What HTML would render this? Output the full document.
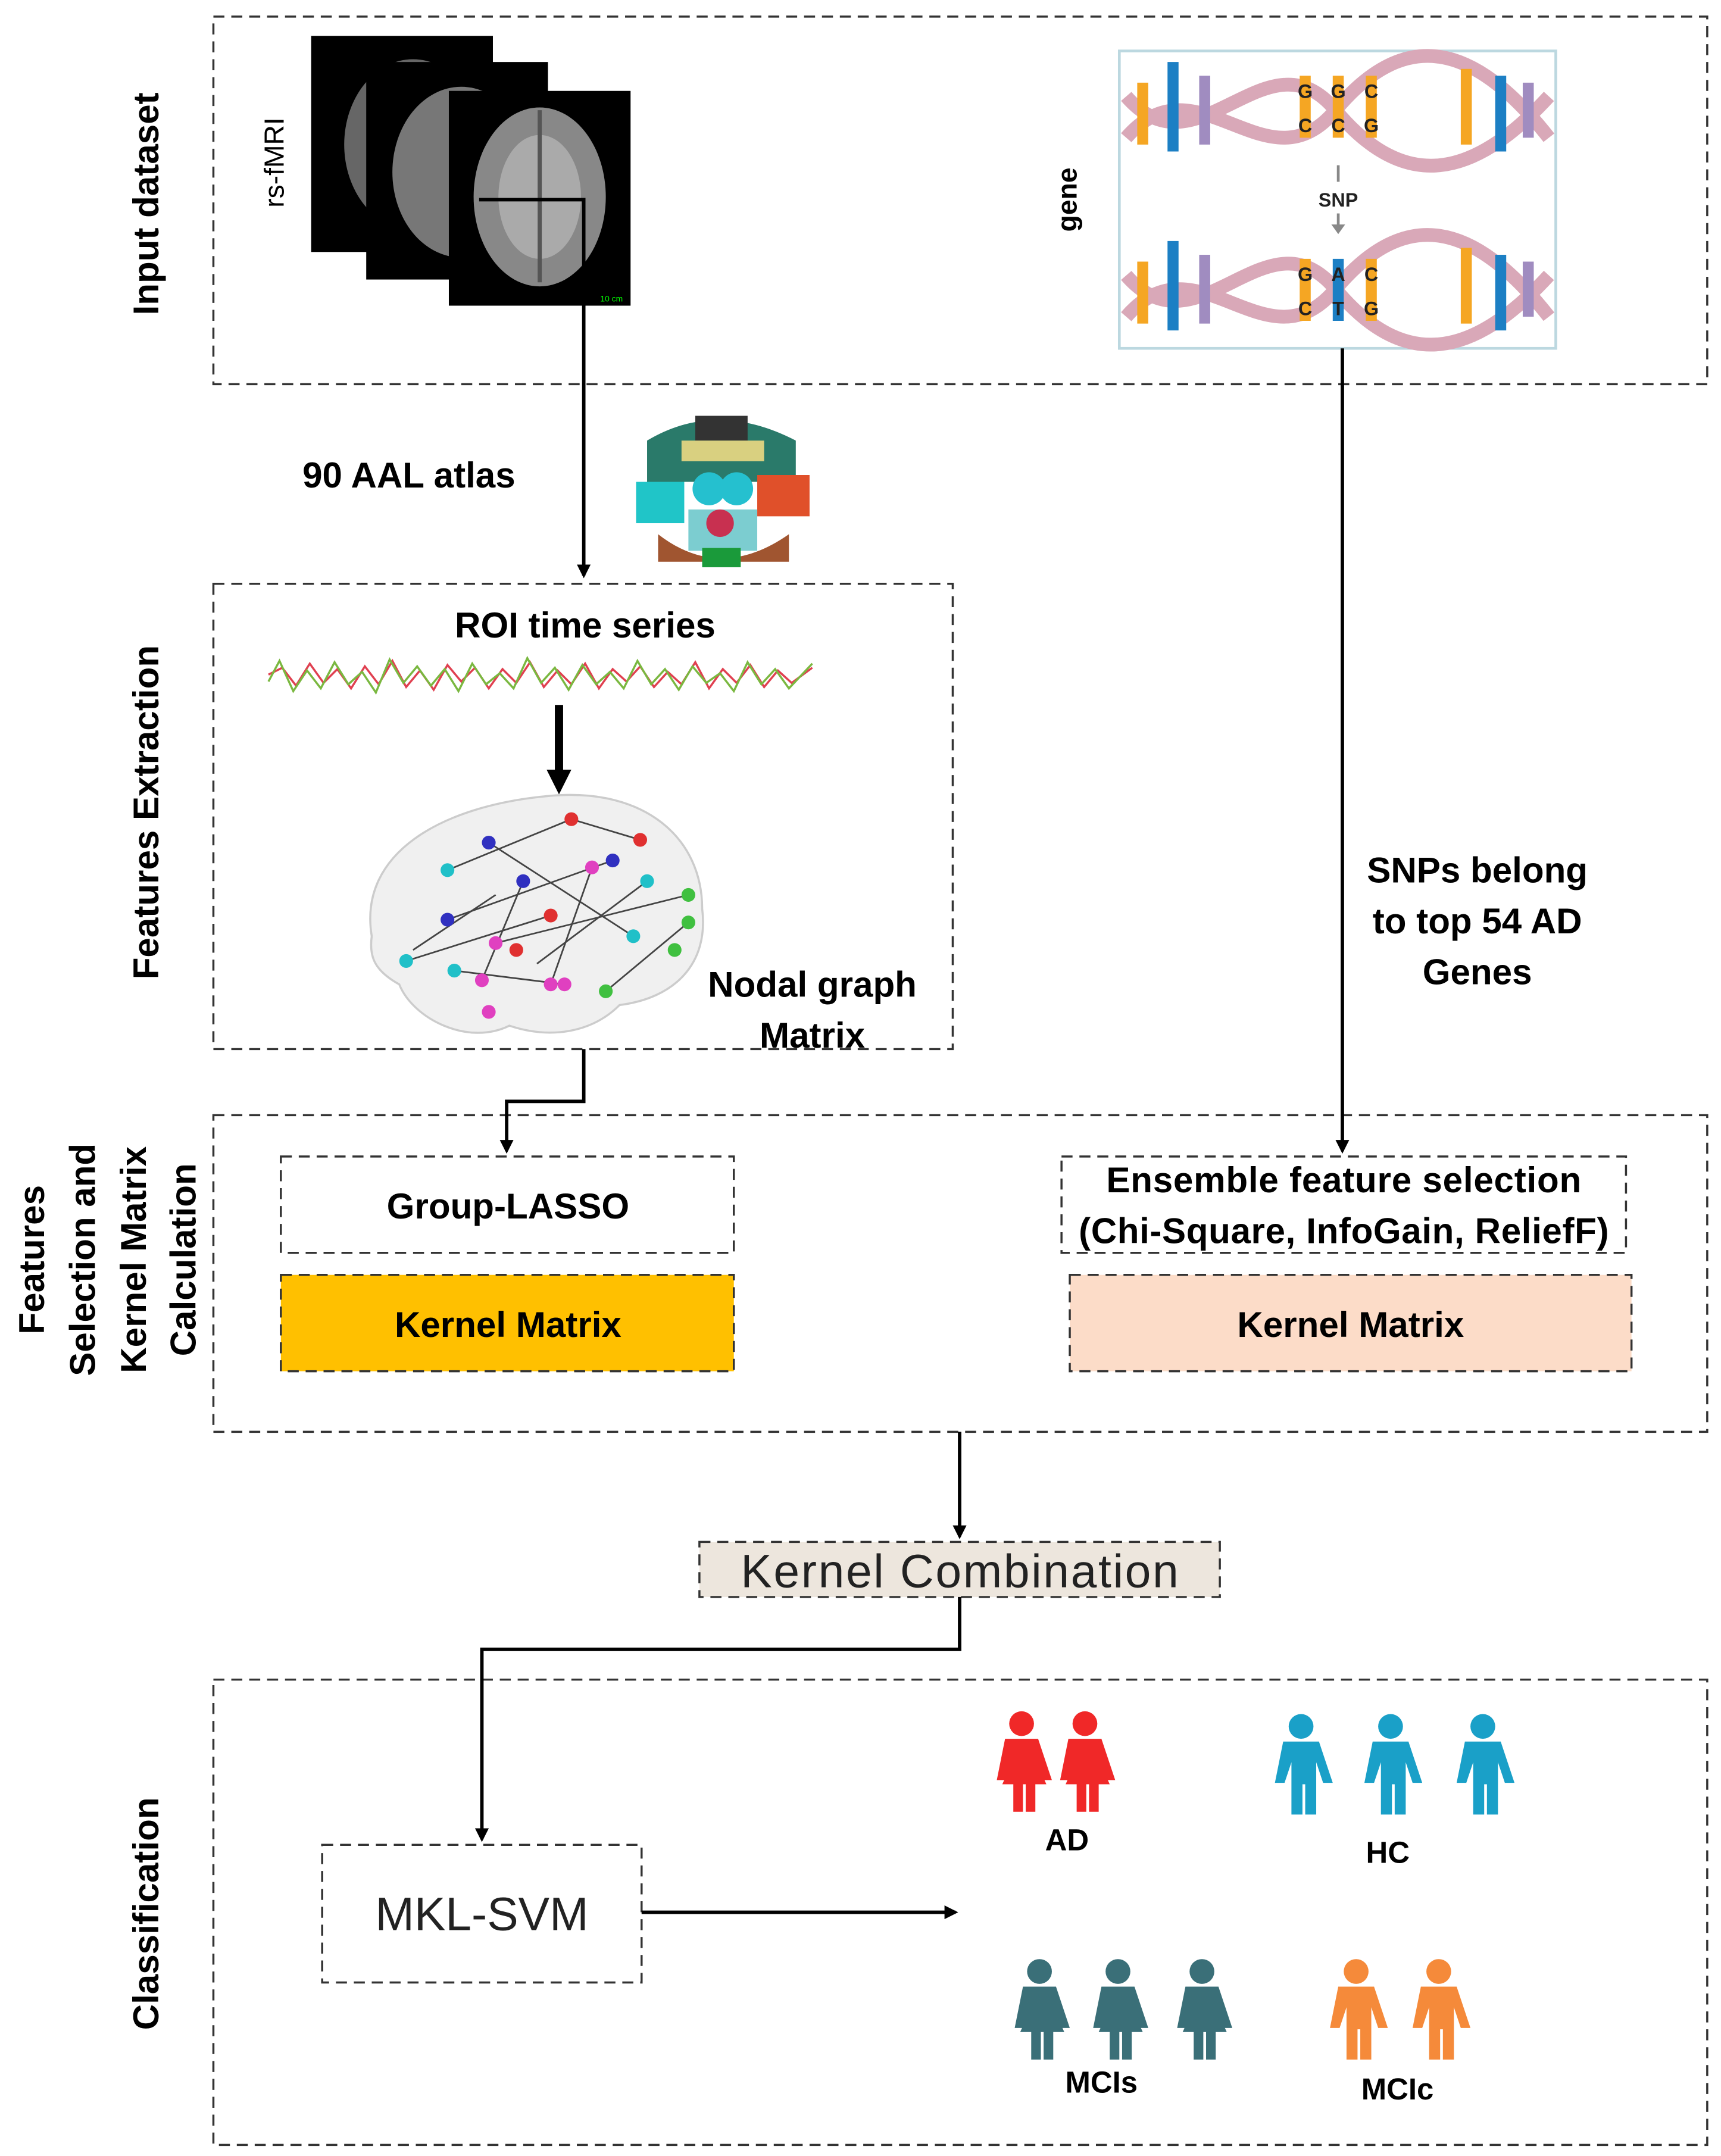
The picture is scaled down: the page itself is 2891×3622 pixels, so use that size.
<!DOCTYPE html>
<html><head><meta charset="utf-8"><style>
html,body{margin:0;padding:0;background:#fff}
svg{display:block}
text{font-family:"Liberation Sans",sans-serif}
</style></head><body>
<svg width="2891" height="3622" viewBox="0 0 1250 1566" xmlns="http://www.w3.org/2000/svg">
<defs>
<marker id="ar" markerWidth="10" markerHeight="10" refX="8" refY="5" orient="auto" markerUnits="userSpaceOnUse">
<path d="M0,0 L10,5 L0,10 z" fill="#000"/></marker>
<marker id="ar2" markerWidth="18" markerHeight="18" refX="9" refY="9" orient="auto" markerUnits="userSpaceOnUse">
<path d="M0,0 L18,9 L0,18 z" fill="#000"/></marker>
<g id="person"><circle cx="0" cy="-26" r="9"/><path d="M-13,-15 h26 l10,30 h-7 l-5,-15 v38 h-8 v-22 h-2 v22 h-8 v-38 l-5,15 h-7 z"/></g>
<g id="woman"><circle cx="0" cy="-26" r="9"/><path d="M-12,-15 h24 l10,30 h-7 l-5,-15 l8,18 h-8 v20 h-7 v-20 h-2 v20 h-7 v-20 h-8 l8,-18 l-5,15 h-7 z"/></g>
</defs>
<g fill="none" stroke="#333" stroke-width="1.5" stroke-dasharray="8,5">
<rect x="155" y="12" width="1085" height="267"/>
<rect x="155" y="424" width="537" height="338"/>
<rect x="155" y="810" width="1085" height="230"/>
<rect x="155" y="1220" width="1085" height="338"/>
<rect x="204" y="840" width="329" height="70"/>
<rect x="204" y="926" width="329" height="70" fill="#FFC000"/>
<rect x="771" y="840" width="410" height="70"/>
<rect x="777" y="926" width="408" height="70" fill="#FCDCC8"/>
<rect x="508" y="1120" width="378" height="40" fill="#EDE6DD"/>
<rect x="234" y="1340" width="232" height="100"/>
</g>
<!-- rotated labels -->
<g font-weight="bold" font-size="26" text-anchor="middle" fill="#000">
<text transform="translate(115,148) rotate(-90)">Input dataset</text>
<text transform="translate(115,590) rotate(-90)">Features Extraction</text>
<text transform="translate(115,1390) rotate(-90)">Classification</text>
<text transform="translate(32,915) rotate(-90)">Features</text>
<text transform="translate(69,915) rotate(-90)">Selection and</text>
<text transform="translate(106,915) rotate(-90)">Kernel Matrix</text>
<text transform="translate(142,915) rotate(-90)">Calculation</text>
</g>
<text transform="translate(206,118) rotate(-90)" font-size="20" text-anchor="middle">rs-fMRI</text>
<text transform="translate(782,145) rotate(-90)" font-size="20" text-anchor="middle" font-weight="bold">gene</text>
<!-- MRI stack -->
<g>
<rect x="226" y="26" width="132" height="157" fill="#000"/>
<ellipse cx="300" cy="105" rx="50" ry="62" fill="#666"/>
<rect x="266" y="45" width="132" height="158" fill="#000"/>
<ellipse cx="335" cy="125" rx="50" ry="62" fill="#777"/>
<rect x="326" y="66" width="132" height="156" fill="#000"/>
<ellipse cx="392" cy="143" rx="48" ry="65" fill="#888"/>
<ellipse cx="392" cy="143" rx="30" ry="45" fill="#aaa"/>
<line x1="392" y1="80" x2="392" y2="205" stroke="#555" stroke-width="3"/>
<text x="436" y="219" font-size="6" fill="#0f0">10 cm</text>
</g>
<!-- gene image -->
<g>
<rect x="813" y="37" width="317" height="216" fill="#fff" stroke="#bcd8e0" stroke-width="2"/>
<g stroke="#d9a8b8" stroke-width="10" fill="none">
<path d="M818,70 C870,130 920,20 970,80 S1070,130 1125,70"/>
<path d="M818,100 C870,40 920,140 970,80 S1070,30 1125,100"/>
<path d="M818,200 C870,260 920,150 970,210 S1070,260 1125,200"/>
<path d="M818,230 C870,170 920,270 970,210 S1070,160 1125,230"/>
</g>
<g stroke-width="8">
<line x1="830" y1="60" x2="830" y2="105" stroke="#f5a623"/><line x1="852" y1="45" x2="852" y2="110" stroke="#1c7fc4"/>
<line x1="875" y1="55" x2="875" y2="105" stroke="#a08cc0"/><line x1="1065" y1="50" x2="1065" y2="105" stroke="#f5a623"/>
<line x1="1090" y1="55" x2="1090" y2="110" stroke="#1c7fc4"/><line x1="1110" y1="60" x2="1110" y2="100" stroke="#a08cc0"/>
<line x1="948" y1="55" x2="948" y2="100" stroke="#f5a623"/><line x1="972" y1="55" x2="972" y2="100" stroke="#f5a623"/><line x1="996" y1="55" x2="996" y2="100" stroke="#f5a623"/>
<line x1="830" y1="190" x2="830" y2="235" stroke="#f5a623"/><line x1="852" y1="175" x2="852" y2="240" stroke="#1c7fc4"/>
<line x1="875" y1="185" x2="875" y2="235" stroke="#a08cc0"/><line x1="1065" y1="180" x2="1065" y2="235" stroke="#f5a623"/>
<line x1="1090" y1="185" x2="1090" y2="240" stroke="#1c7fc4"/><line x1="1110" y1="190" x2="1110" y2="230" stroke="#a08cc0"/>
<line x1="948" y1="188" x2="948" y2="233" stroke="#f5a623"/><line x1="972" y1="188" x2="972" y2="233" stroke="#1c7fc4"/><line x1="996" y1="188" x2="996" y2="233" stroke="#f5a623"/>
</g>
<g font-size="14" font-weight="bold" text-anchor="middle" fill="#222">
<text x="948" y="71">G</text><text x="972" y="71">G</text><text x="996" y="71">C</text>
<text x="948" y="96">C</text><text x="972" y="96">C</text><text x="996" y="96">G</text>
<text x="948" y="204">G</text><text x="972" y="204">A</text><text x="996" y="204">C</text>
<text x="948" y="229">C</text><text x="972" y="229">T</text><text x="996" y="229">G</text>
<text x="972" y="150">SNP</text>
</g>
<line x1="972" y1="120" x2="972" y2="132" stroke="#888" stroke-width="2"/>
<path d="M972,155 v10" stroke="#888" stroke-width="2"/><path d="M967,163 l5,7 l5,-7z" fill="#888"/>
</g>
<!-- connectors -->
<g stroke="#000" stroke-width="2.5" fill="none">
<path d="M348,145 H424 V418" marker-end="url(#ar)"/>
<path d="M975,253 V836" marker-end="url(#ar)"/>
<path d="M424,762 V800 H368 V836" marker-end="url(#ar)"/>
<path d="M697,1040 V1116" marker-end="url(#ar)"/>
<path d="M697,1160 V1198 H350 V1336" marker-end="url(#ar)"/>
<path d="M466,1389 H694" marker-end="url(#ar)"/>
<path d="M406,512 V568" stroke-width="6" marker-end="url(#ar2)"/>
</g>
<!-- atlas blob -->
<g>
<ellipse cx="523" cy="357" rx="62" ry="55" fill="#fff"/>
<path d="M470,320 q50,-30 108,0 v30 h-108z" fill="#2a7a6a"/>
<rect x="505" y="302" width="38" height="18" fill="#333"/>
<rect x="495" y="320" width="60" height="15" fill="#d9d080"/>
<path d="M462,350 h35 v30 h-35z" fill="#20c5c8"/><path d="M550,345 h38 v30 h-38z" fill="#e0502a"/>
<circle cx="515" cy="355" r="12" fill="#25c0cf"/><circle cx="535" cy="355" r="12" fill="#25c0cf"/>
<path d="M500,370 h50 v30 h-50z" fill="#7ccdd0"/><ellipse cx="523" cy="380" rx="10" ry="10" fill="#c83050"/>
<path d="M478,388 q45,35 95,0 v20 h-95z" fill="#a05530"/><rect x="510" y="398" width="28" height="14" fill="#1a9a3a"/>
</g>
<text x="297" y="354" font-size="26" font-weight="bold" text-anchor="middle">90 AAL atlas</text>
<text x="425" y="463" font-size="26" font-weight="bold" text-anchor="middle">ROI time series</text>
<!-- time series -->
<polyline fill="none" stroke="#e04050" stroke-width="1.5" points="195,490 205,485 215,498 225,482 235,496 245,486 255,500 265,484 275,497 285,480 295,499 305,487 315,501 325,483 335,495 345,485 355,500 365,486 375,496 385,481 395,499 405,487 415,497 425,482 435,500 445,486 455,495 465,484 475,499 485,488 495,497 505,481 515,500 525,486 535,496 545,483 555,499 565,487 575,496 590,485"/>
<polyline fill="none" stroke="#7ab840" stroke-width="1.5" points="195,495 203,480 213,502 223,487 233,500 243,481 253,497 263,488 273,503 283,479 293,496 303,484 313,498 323,486 333,502 343,482 353,497 363,489 373,500 383,478 393,496 403,485 413,501 423,483 433,497 443,488 453,500 463,480 473,497 483,486 493,501 503,484 513,496 523,489 533,502 543,481 553,497 563,486 573,500 590,482"/>
<!-- brain -->
<g>
<path d="M270,680 C260,620 320,585 400,578 C470,572 510,610 510,660 C515,700 490,725 450,730 C430,750 400,755 370,745 C340,760 300,740 290,715 C272,705 268,695 270,680z" fill="#f0f0f0" stroke="#ccc" stroke-width="1.5"/>
<g stroke="#444" stroke-width="1.2">
<line x1="325" y1="632" x2="415" y2="595"/><line x1="415" y1="595" x2="465" y2="610"/><line x1="355" y1="612" x2="460" y2="680"/>
<line x1="325" y1="668" x2="445" y2="625"/><line x1="295" y1="698" x2="400" y2="665"/><line x1="360" y1="685" x2="500" y2="650"/>
<line x1="330" y1="705" x2="410" y2="715"/><line x1="380" y1="640" x2="350" y2="712"/><line x1="430" y1="630" x2="400" y2="715"/>
<line x1="440" y1="720" x2="500" y2="670"/><line x1="300" y1="690" x2="360" y2="650"/><line x1="390" y1="700" x2="470" y2="640"/>
</g>
<g>
<circle cx="325" cy="632" r="5" fill="#20c0c8"/><circle cx="415" cy="595" r="5" fill="#e03030"/><circle cx="465" cy="610" r="5" fill="#e03030"/>
<circle cx="355" cy="612" r="5" fill="#3030c0"/><circle cx="460" cy="680" r="5" fill="#20c0c8"/><circle cx="325" cy="668" r="5" fill="#3030c0"/>
<circle cx="445" cy="625" r="5" fill="#3030c0"/><circle cx="295" cy="698" r="5" fill="#20c0c8"/><circle cx="400" cy="665" r="5" fill="#e03030"/>
<circle cx="360" cy="685" r="5" fill="#e040c0"/><circle cx="500" cy="650" r="5" fill="#40c040"/><circle cx="330" cy="705" r="5" fill="#20c0c8"/>
<circle cx="410" cy="715" r="5" fill="#e040c0"/><circle cx="350" cy="712" r="5" fill="#e040c0"/><circle cx="400" cy="715" r="5" fill="#e040c0"/>
<circle cx="440" cy="720" r="5" fill="#40c040"/><circle cx="500" cy="670" r="5" fill="#40c040"/><circle cx="470" cy="640" r="5" fill="#20c0c8"/>
<circle cx="380" cy="640" r="5" fill="#3030c0"/><circle cx="430" cy="630" r="5" fill="#e040c0"/><circle cx="355" cy="735" r="5" fill="#e040c0"/>
<circle cx="490" cy="690" r="5" fill="#40c040"/><circle cx="375" cy="690" r="5" fill="#e03030"/>
</g>
</g>
<g font-size="26" font-weight="bold" text-anchor="middle">
<text x="590" y="724">Nodal graph</text>
<text x="590" y="761">Matrix</text>
<text x="1073" y="641">SNPs belong</text>
<text x="1073" y="678">to top 54 AD</text>
<text x="1073" y="715">Genes</text>
<text x="369" y="885">Group-LASSO</text>
<text x="369" y="971">Kernel Matrix</text>
<text x="976" y="866" textLength="345">Ensemble feature selection</text>
<text x="976" y="903" textLength="385">(Chi-Square, InfoGain, ReliefF)</text>
<text x="981" y="971">Kernel Matrix</text>
</g>
<text x="697" y="1153" font-size="34" text-anchor="middle" fill="#222" textLength="318">Kernel Combination</text>
<text x="350" y="1402" font-size="34" text-anchor="middle" fill="#222">MKL-SVM</text>
<!-- people -->
<g fill="#f02828"><use href="#woman" x="742" y="1278"/><use href="#woman" x="788" y="1278"/></g>
<g fill="#1aa0c8"><use href="#person" x="945" y="1280"/><use href="#person" x="1010" y="1280"/><use href="#person" x="1077" y="1280"/></g>
<g fill="#3a6f78"><use href="#woman" x="755" y="1458"/><use href="#woman" x="812" y="1458"/><use href="#woman" x="873" y="1458"/></g>
<g fill="#f58a3a"><use href="#person" x="985" y="1458"/><use href="#person" x="1045" y="1458"/></g>
<g font-size="22" font-weight="bold" text-anchor="middle">
<text x="775" y="1344">AD</text><text x="1008" y="1353">HC</text>
<text x="800" y="1520">MCIs</text><text x="1015" y="1525">MCIc</text>
</g>
</svg>
</body></html>
